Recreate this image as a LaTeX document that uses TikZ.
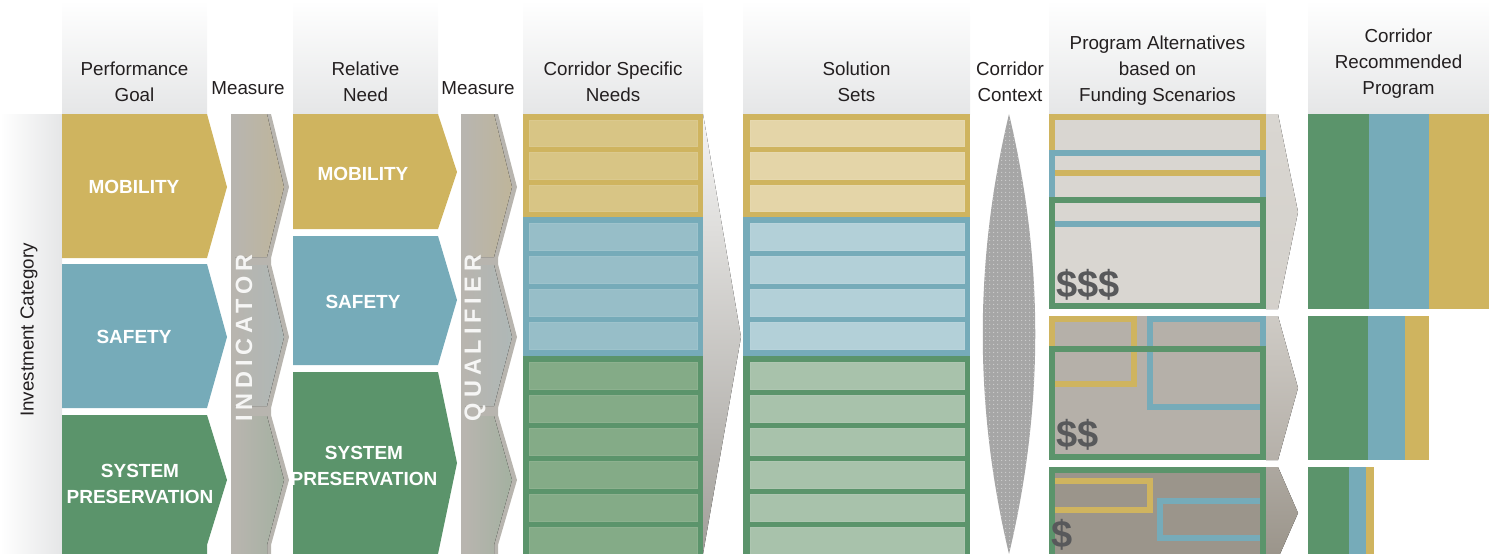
\documentclass[tikz,border=0pt]{standalone}
\usepackage{fontspec}
\setmainfont{Liberation Sans}
\usetikzlibrary{patterns}
\pgfdeclarepatternformonly{lensdots}{\pgfqpoint{0pt}{0pt}}{\pgfqpoint{4pt}{4pt}}{\pgfqpoint{4pt}{4pt}}{\pgfpathcircle{\pgfqpoint{2pt}{2pt}}{0.8pt}\pgfusepath{fill}}
\definecolor{cgold}{HTML}{CFB45F}
\definecolor{cblue}{HTML}{76ABB9}
\definecolor{cgreen}{HTML}{5B946B}
\definecolor{ngold}{HTML}{D8C585}
\definecolor{nblue}{HTML}{97BEC8}
\definecolor{ngreen}{HTML}{84AB87}
\definecolor{sgold}{HTML}{E4D5A8}
\definecolor{sblue}{HTML}{B3D0D8}
\definecolor{sgreen}{HTML}{A8C2AB}
\definecolor{hdr}{HTML}{E5E6E7}
\definecolor{txt}{HTML}{231F20}
\definecolor{mgray}{HTML}{B8B5AF}
\definecolor{mgold}{HTML}{C9B47A}
\definecolor{mblue}{HTML}{A0BCC2}
\definecolor{mgreen}{HTML}{84A98A}
\definecolor{pa}{HTML}{D9D6D1}
\definecolor{pb}{HTML}{B5B0A9}
\definecolor{pc}{HTML}{9B958B}
\definecolor{dollar}{HTML}{58595B}
\definecolor{lensfill}{HTML}{A6A6A6}
\definecolor{lensdot}{HTML}{CECECE}
\begin{document}
\begin{tikzpicture}[x=1pt,y=-1pt,
  hdrtxt/.style={font=\fontsize{18.8}{26}\selectfont, text=txt, align=center, inner sep=0pt},
  cattxt/.style={font=\fontsize{19}{26}\selectfont\bfseries, text=white, align=center, inner sep=0pt},
  vtxt/.style={font=\fontsize{23.5}{26}\selectfont\bfseries\addfontfeature{LetterSpace=21}, text=white, text opacity=0.88, rotate=90, inner sep=0pt},
  dol/.style={font=\fontsize{38}{40}\selectfont\bfseries, text=dollar, inner sep=0pt},
  hdrbox/.style={top color=white, bottom color=hdr},
  frame/.style={line width=6pt, line join=miter},
  row/.style={line width=1pt}]
\useasboundingbox (0,0) rectangle (1499,554);

% header boxes
\foreach \a/\b in {62/207, 293/438, 523/703, 743/970, 1049/1266, 1308/1489}
  \fill[hdrbox] (\a,0) rectangle (\b,114);

% left category strip
\fill[left color=white, right color=hdr] (0,114) rectangle (62,554);

% column 1: performance goal chevrons
\fill[cgold] (62,114) -- (207,114) -- (227,187) -- (207,258) -- (62,258) -- cycle;
\fill[cblue] (62,264) -- (207,264) -- (227,337) -- (207,408) -- (62,408) -- cycle;
\fill[cgreen] (62,415) -- (207,415) -- (227,480) -- (207,545) -- (207,554) -- (62,554) -- cycle;

% column 2: relative need chevrons
\fill[cgold] (293,114) -- (438,114) -- (457,172) -- (438,229) -- (293,229) -- cycle;
\fill[cblue] (293,236) -- (438,236) -- (457,300) -- (438,365) -- (293,365) -- cycle;
\fill[cgreen] (293,372) -- (438,372) -- (457,463) -- (438,554) -- (293,554) -- cycle;

% measure strips
\foreach \L/\R/\P in {231/271/289, 461/498/517} {
  \fill[mgray] (\L,114) -- (\R,114) -- (\P,187) -- (\R,258) -- (\R,264) -- (\P,337) -- (\R,408) -- (\R,415) -- (\P,480) -- (\R,545) -- (\R,554) -- (\L,554) -- cycle;
  \fill[left color=mgray, middle color=mgold, right color=mgold!40!mgray]
    (\L+4,114) -- (\R-4,114) -- (\P-5,187) -- (\R-4,257) -- (\L+4,257) -- cycle;
  \fill[left color=mgray, middle color=mblue, right color=mblue!40!mgray]
    (\L+4,265) -- (\R-4,265) -- (\P-5,337) -- (\R-4,406) -- (\L+4,406) -- cycle;
  \fill[left color=mgray, middle color=mgreen, right color=mgreen!40!mgray]
    (\L+4,416) -- (\R-4,416) -- (\P-5,480) -- (\R-4,545) -- (\R-4,554) -- (\L+4,554) -- cycle;
}

% column 3: corridor specific needs
\fill[cgold] (523,114) rectangle (703,217);
\fill[cblue] (523,217) rectangle (703,356);
\fill[cgreen] (523,356) rectangle (703,554);
\foreach \y in {120,152.5,185}
  \filldraw[row, fill=ngold, draw=ngold!93!white] (529,\y) rectangle (697,\y+26.5);
\foreach \y in {223.5,256.5,289.5,322.5}
  \filldraw[row, fill=nblue, draw=nblue!93!white] (529,\y) rectangle (697,\y+26.5);
\foreach \y in {362.5,395.5,428.5,461.5,494.5,527.5}
  \filldraw[row, fill=ngreen, draw=ngreen!93!white] (529,\y) rectangle (697,\y+26.5);

% big arrow
\fill[top color=white!85!mgray, bottom color=mgray!88!black] (703,114) -- (741,337) -- (703,554) -- cycle;

% column 4: solution sets
\fill[cgold] (743,114) rectangle (970,217);
\fill[cblue] (743,217) rectangle (970,356);
\fill[cgreen] (743,356) rectangle (970,554);
\foreach \y in {120,152.5,185}
  \filldraw[row, fill=sgold, draw=sgold!93!white] (750,\y) rectangle (964,\y+26.5);
\foreach \y in {223.5,256.5,289.5,322.5}
  \filldraw[row, fill=sblue, draw=sblue!93!white] (750,\y) rectangle (964,\y+26.5);
\foreach \y in {362.5,395.5,428.5,461.5,494.5,527.5}
  \filldraw[row, fill=sgreen, draw=sgreen!93!white] (750,\y) rectangle (964,\y+26.5);

% corridor context lens
\fill[lensfill] (1009,114) .. controls (974,261) and (974,407) .. (1009,554) .. controls (1044,407) and (1044,261) .. (1009,114) -- cycle;
\fill[pattern=lensdots, pattern color=lensdot] (1009,114) .. controls (974,261) and (974,407) .. (1009,554) .. controls (1044,407) and (1044,261) .. (1009,114) -- cycle;

% column 5: program alternatives
\fill[pa] (1049,114) rectangle (1266,309);
\draw[frame, cgold] (1052,117) rectangle (1263,173);
\draw[frame, cblue] (1052,153) rectangle (1263,224);
\draw[frame, cgreen] (1052,200) rectangle (1263,306);

\fill[pb] (1049,316) rectangle (1266,460);
\draw[frame, cgold] (1052,319) rectangle (1134,384);
\draw[frame, cblue] (1150,319) rectangle (1263,407);
\draw[frame, cgreen] (1052,349) rectangle (1263,457);

\fill[pc] (1049,467) rectangle (1266,554);
\draw[frame, cgold] (1052,481) rectangle (1150,510);
\draw[frame, cblue] (1160,501) rectangle (1263,538);
\draw[frame, cgreen] (1052,562) -- (1052,470) -- (1263,470) -- (1263,562);

\node[dol, anchor=base west] (d3) at (1056,297) {\$\$\$};
\node[dol, anchor=base west] (d2) at (1056,447) {\$\$};
\node[dol, anchor=base west] (d1) at (1051,547) {\$};

% arrows to recommended program
\fill[top color=pa, bottom color=pa!85!pb] (1266,114) -- (1278,114) -- (1298,212) -- (1278,309) -- (1266,309) -- cycle;
\fill[top color=pa!70!pb, bottom color=pb] (1266,316) -- (1278,316) -- (1298,388) -- (1278,460) -- (1266,460) -- cycle;
\fill[top color=pb!70!pc, bottom color=pc] (1266,467) -- (1278,467) -- (1298,513) -- (1280,554) -- (1266,554) -- cycle;

% column 6: recommended program bars
\fill[cgreen] (1308,114) rectangle (1369,309);
\fill[cblue] (1369,114) rectangle (1429,309);
\fill[cgold] (1429,114) rectangle (1489,309);
\fill[cgreen] (1308,316) rectangle (1368,460);
\fill[cblue] (1368,316) rectangle (1405,460);
\fill[cgold] (1405,316) rectangle (1429,460);
\fill[cgreen] (1308,467) rectangle (1349,554);
\fill[cblue] (1349,467) rectangle (1366,554);
\fill[cgold] (1366,467) rectangle (1374,554);

% header texts
\node[hdrtxt] (hpg) at (134.5,81.5) {Performance\\Goal};
\node[hdrtxt] (hm1) at (248,88) {Measure};
\node[hdrtxt] (hrn) at (365.5,81.5) {Relative\\Need};
\node[hdrtxt] (hm2) at (478,88) {Measure};
\node[hdrtxt] (hcs) at (613,81.5) {Corridor Specific\\Needs};
\node[hdrtxt] (hss) at (856.5,81.5) {Solution\\Sets};
\node[hdrtxt] (hcc) at (1010,82) {Corridor\\Context};
\node[hdrtxt] (hpa) at (1157.5,71) {Program Alternatives\\based on\\Funding Scenarios};
\node[hdrtxt] (hcr) at (1398.5,64) {Corridor\\Recommended\\Program};

\node[hdrtxt, rotate=90] (inv) at (29,330) {Investment Category};

% category labels
\node[cattxt] (m1) at (134,187) {MOBILITY};
\node[cattxt] (s1) at (134,337) {SAFETY};
\node[cattxt] (p1) at (140,484) {SYSTEM\\PRESERVATION};
\node[cattxt] (m2) at (363,174) {MOBILITY};
\node[cattxt] (s2) at (363,302) {SAFETY};
\node[cattxt] (p2) at (364,466) {SYSTEM\\PRESERVATION};

\node[vtxt] (ind) at (244,338) {INDICATOR};
\node[vtxt] (qual) at (475,338) {QUALIFIER};
\end{tikzpicture}
\end{document}
